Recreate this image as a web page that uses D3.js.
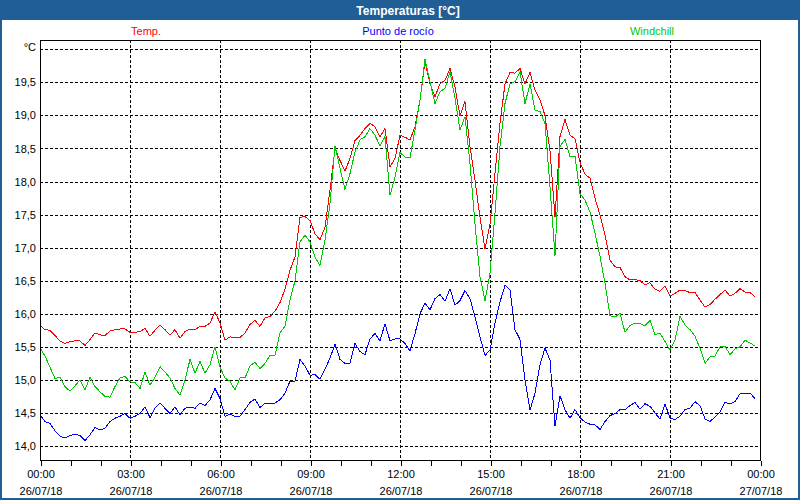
<!DOCTYPE html>
<html>
<head>
<meta charset="utf-8">
<script src="https://cdn.jsdelivr.net/npm/d3@7"></script>
<style>
  html, body { margin: 0; padding: 0; background: #fff; }
  svg { display: block; }
  text { font-family: "Liberation Sans", Arial, sans-serif; }
</style>
</head>
<body>
<svg id="chart" width="800" height="500"></svg>
<script>
// ---- Data (10-minute samples from 26/07/18 00:00) ----
const title = "Temperaturas [°C]";
const seriesNames = ["Temp.", "Punto de rocío", "Windchill"];
const seriesColors = ["#ff0000", "#0000ff", "#00c800"];
const yTickValues = [14.0, 14.5, 15.0, 15.5, 16.0, 16.5, 17.0, 17.5, 18.0, 18.5, 19.0, 19.5];
const yGridValues = [14.0, 14.5, 15.0, 15.5, 16.0, 16.5, 17.0, 17.5, 18.0, 18.5, 19.0, 19.5, 20.0];
const xTickHours = [0, 3, 6, 9, 12, 15, 18, 21, 24];
const xTimeLabels = ["00:00", "03:00", "06:00", "09:00", "12:00", "15:00", "18:00", "21:00", "00:00"];
const xDateLabels = ["26/07/18", "26/07/18", "26/07/18", "26/07/18", "26/07/18", "26/07/18", "26/07/18", "26/07/18", "27/07/18"];
const sampleMinutes = 10;

const temp = [
  15.83,15.76,15.75,15.67,15.59,15.55,15.58,15.59,15.59,15.52,
  15.61,15.71,15.68,15.67,15.74,15.76,15.77,15.77,15.72,15.72,
  15.73,15.78,15.66,15.75,15.83,15.76,15.68,15.76,15.63,15.73,
  15.77,15.76,15.81,15.81,15.86,16.03,15.86,15.60,15.65,15.64,
  15.64,15.71,15.84,15.90,15.81,15.94,15.96,16.04,16.17,16.37,
  16.66,16.86,17.46,17.47,17.41,17.21,17.12,17.31,17.87,18.50,
  18.32,18.16,18.35,18.62,18.70,18.80,18.88,18.83,18.68,18.80,
  18.22,18.35,18.70,18.67,18.63,18.83,19.23,19.81,19.48,19.28,
  19.48,19.53,19.71,19.43,18.99,19.21,18.53,18.02,17.46,16.98,
  17.36,18.12,18.88,19.48,19.65,19.64,19.71,19.48,19.65,19.38,
  19.23,19.00,18.47,17.46,18.68,18.94,18.70,18.65,18.29,18.11,
  18.05,17.75,17.49,17.19,16.81,16.71,16.70,16.56,16.51,16.52,
  16.50,16.44,16.47,16.37,16.34,16.42,16.27,16.31,16.36,16.35,
  16.32,16.32,16.21,16.10,16.14,16.22,16.29,16.36,16.27,16.31,
  16.38,16.33,16.32,16.26
];
const dewPoint = [
  14.47,14.37,14.34,14.23,14.15,14.12,14.16,14.18,14.16,14.08,
  14.17,14.28,14.24,14.27,14.37,14.42,14.45,14.49,14.42,14.45,
  14.49,14.59,14.43,14.57,14.65,14.57,14.49,14.59,14.47,14.57,
  14.59,14.57,14.65,14.61,14.70,14.87,14.72,14.45,14.48,14.45,
  14.45,14.55,14.66,14.71,14.58,14.65,14.64,14.65,14.70,14.80,
  14.98,14.98,15.31,15.21,15.07,15.08,15.01,15.16,15.33,15.54,
  15.31,15.25,15.25,15.55,15.43,15.38,15.62,15.70,15.59,15.85,
  15.59,15.62,15.62,15.55,15.44,15.70,16.00,16.16,16.06,16.23,
  16.29,16.19,16.38,16.13,16.20,16.35,16.23,15.95,15.65,15.37,
  15.45,15.86,16.18,16.43,16.36,15.76,15.61,15.00,14.54,14.80,
  15.23,15.48,15.30,14.30,14.76,14.55,14.42,14.55,14.43,14.36,
  14.33,14.32,14.25,14.37,14.46,14.49,14.55,14.55,14.61,14.66,
  14.56,14.64,14.60,14.50,14.41,14.64,14.42,14.40,14.45,14.55,
  14.57,14.67,14.61,14.41,14.37,14.44,14.51,14.66,14.64,14.67,
  14.79,14.79,14.80,14.72
];
const windchill = [
  15.49,15.36,15.19,15.02,15.04,14.90,14.83,14.91,15.00,14.85,
  15.04,14.90,14.82,14.75,14.74,14.90,15.03,15.05,14.97,14.96,
  14.87,15.12,14.92,15.04,15.20,15.12,15.03,14.87,14.77,15.00,
  15.31,15.10,15.28,15.10,15.23,15.50,15.19,15.03,14.98,14.85,
  15.03,15.03,15.21,15.27,15.17,15.25,15.37,15.37,15.71,15.81,
  16.21,16.50,17.09,17.19,17.09,16.86,16.73,17.11,17.67,18.54,
  18.20,17.88,18.12,18.45,18.63,18.68,18.80,18.70,18.54,18.68,
  17.79,18.07,18.44,18.37,18.36,18.78,19.23,19.85,19.51,19.18,
  19.36,19.41,19.66,19.26,18.78,18.98,18.27,17.36,16.56,16.20,
  16.61,17.52,18.53,19.18,19.48,19.51,19.66,19.18,19.48,19.08,
  19.06,18.88,17.92,16.88,18.53,18.64,18.38,18.38,17.82,17.72,
  17.54,17.22,16.87,16.46,15.97,15.95,16.01,15.72,15.82,15.86,
  15.85,15.82,15.90,15.68,15.71,15.58,15.45,15.60,15.96,15.83,
  15.76,15.66,15.48,15.25,15.35,15.36,15.50,15.51,15.38,15.47,
  15.50,15.60,15.56,15.51
];
const allSeries = [temp, dewPoint, windchill];

// ---- Layout ----
const W = 800, H = 500;
const plot = { left: 40, right: 760, top: 40, bottom: 460 };
const frameColor = "#1f5f96";

const svg = d3.select("#chart");

// frame
svg.append("rect").attr("x", 0).attr("y", 0).attr("width", W).attr("height", H).attr("fill", frameColor);
svg.append("rect").attr("x", 2).attr("y", 20).attr("width", W - 4).attr("height", H - 22).attr("fill", "#ffffff");
svg.append("text").attr("x", 408).attr("y", 14.5).attr("text-anchor", "middle")
  .attr("fill", "#ffffff").attr("font-weight", "bold").attr("font-size", "12px").text(title);

// scales
const x = d3.scaleLinear().domain([0, 24]).range([plot.left, plot.right]);
const y = d3.scaleLinear().domain([14, 20]).range([446, 49.33]);

// grid
const grid = svg.append("g").attr("shape-rendering", "crispEdges");
grid.selectAll("line.h").data(yGridValues).join("line")
  .attr("x1", plot.left).attr("x2", plot.right)
  .attr("y1", d => Math.round(y(d)) + 0.5).attr("y2", d => Math.round(y(d)) + 0.5)
  .attr("stroke", "#000").attr("stroke-dasharray", "3,2");
grid.selectAll("line.v").data(xTickHours.slice(1, -1)).join("line")
  .attr("x1", d => Math.round(x(d)) + 0.5).attr("x2", d => Math.round(x(d)) + 0.5)
  .attr("y1", plot.top).attr("y2", plot.bottom)
  .attr("stroke", "#000").attr("stroke-dasharray", "3,2");

// series lines
const times = temp.map((_, i) => i * sampleMinutes / 60);
const line = d3.line().x((d, i) => x(times[i])).y(d => y(d));
const lines = svg.append("g");
allSeries.forEach((s, k) => {
  lines.append("path").datum(s).attr("d", line)
    .attr("fill", "none").attr("stroke", seriesColors[k]).attr("stroke-width", 1)
    .attr("shape-rendering", "crispEdges");
});

// plot border
svg.append("rect").attr("x", plot.left + 0.5).attr("y", plot.top + 0.5)
  .attr("width", plot.right - plot.left).attr("height", plot.bottom - plot.top)
  .attr("fill", "none").attr("stroke", "#000").attr("shape-rendering", "crispEdges");

// y axis labels
const yAxis = d3.axisLeft(y).tickValues(yTickValues).tickSize(0).tickPadding(4)
  .tickFormat(d => d3.format(".1f")(d).replace(".", ","));
const yg = svg.append("g").attr("transform", `translate(${plot.left},0)`).call(yAxis);
yg.select(".domain").remove();
yg.selectAll("text").attr("font-size", "11px").attr("fill", "#000")
  .attr("font-family", "'Liberation Sans', Arial, sans-serif");
svg.append("text").attr("x", 36).attr("y", 51).attr("text-anchor", "end")
  .attr("font-size", "11px").attr("fill", "#000").text("°C");

// x axis ticks (hourly) and labels
const xAxis = d3.axisBottom(x).tickValues(d3.range(0, 25, 1)).tickSize(5).tickFormat("");
const xg = svg.append("g").attr("transform", `translate(0.5,${plot.bottom + 0.5})`)
  .attr("shape-rendering", "crispEdges").call(xAxis);
xg.select(".domain").remove();
xg.selectAll("line").attr("stroke", "#000");

const lbl = svg.append("g");
lbl.selectAll("text.t").data(xTickHours).join("text")
  .attr("x", d => x(d) + 1).attr("y", 478).attr("text-anchor", "middle")
  .attr("font-size", "11px").attr("fill", "#000").text((d, i) => xTimeLabels[i]);
lbl.selectAll("text.d").data(xTickHours).join("text")
  .attr("x", d => x(d) + 1).attr("y", 495).attr("text-anchor", "middle")
  .attr("font-size", "11px").attr("fill", "#000").text((d, i) => xDateLabels[i]);

// legend
const legendX = [146, 398, 652];
svg.append("g").selectAll("text").data(seriesNames).join("text")
  .attr("x", (d, i) => legendX[i]).attr("y", 35).attr("text-anchor", "middle")
  .attr("font-size", "11px").attr("fill", (d, i) => seriesColors[i]).text(d => d);
</script>
</body>
</html>
